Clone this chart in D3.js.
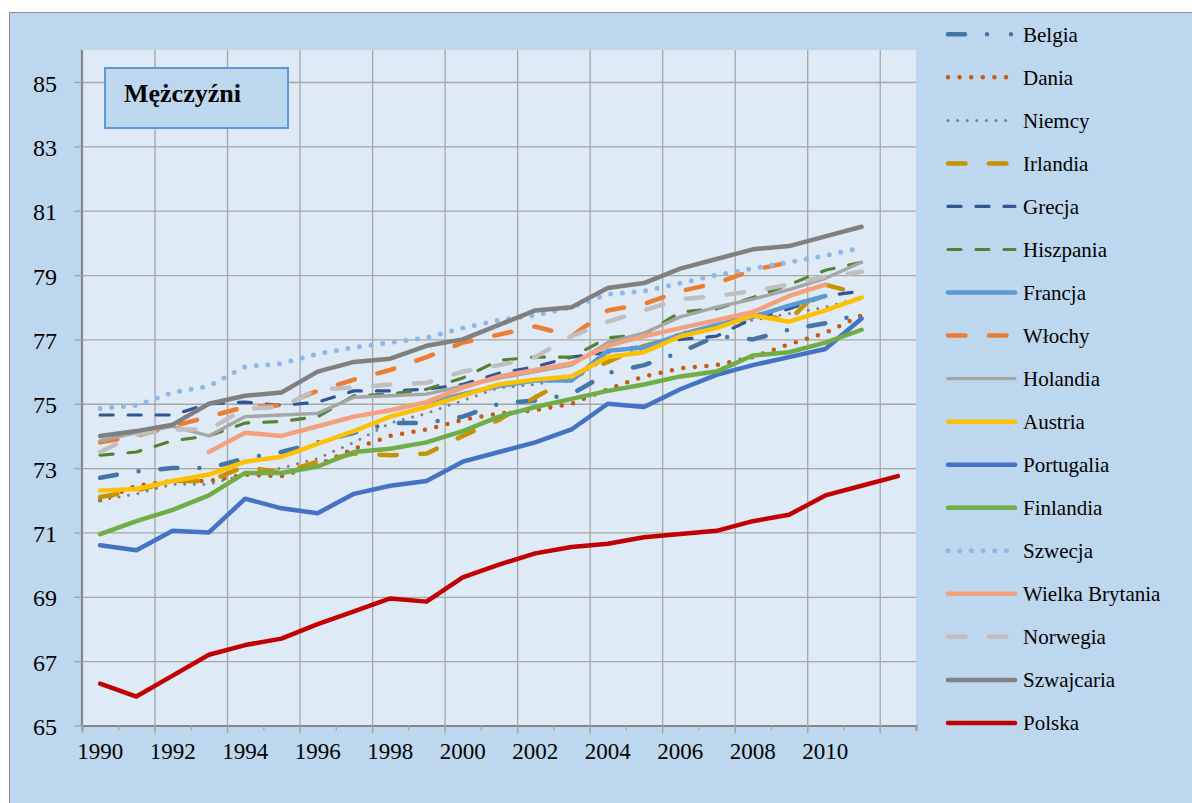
<!DOCTYPE html>
<html>
<head>
<meta charset="utf-8">
<script src="https://cdn.jsdelivr.net/npm/d3@7"></script>
<style>
  body { margin: 0; background: #fff; }
  svg { display: block; font-family: "Liberation Serif", "Times New Roman", serif; }
</style>
</head>
<body>
<div class="chart-container"></div>
<script>
// categories
const years = [1990, 1991, 1992, 1993, 1994, 1995, 1996, 1997, 1998, 1999, 2000, 2001,
  2002, 2003, 2004, 2005, 2006, 2007, 2008, 2009, 2010, 2011, 2012];
const yearLabels = [1990, 1992, 1994, 1996, 1998, 2000, 2002, 2004, 2006, 2008, 2010];
const yTicks = [65, 67, 69, 71, 73, 75, 77, 79, 81, 83, 85];

// life expectancy, men
const belgia = [72.7, 72.9, 73.0, 73.0, 73.3, 73.5, 73.8, 74.1, 74.4, 74.4, 74.6, 75.0, 75.1, 75.3, 75.95, 76.2, 76.6, 77.1, 77.0, 77.3, 77.5, 77.8, null];
const dania = [72.0, 72.45, 72.6, 72.6, 72.8, 72.75, 73.1, 73.6, 74.0, 74.2, 74.5, 74.7, 74.8, 75.0, 75.45, 75.85, 76.1, 76.2, 76.45, 76.85, 77.2, 77.75, null];
const niemcy = [72.0, 72.2, 72.5, 72.5, 72.8, 73.0, 73.3, 73.8, 74.4, 74.7, 75.1, 75.5, 75.6, 75.8, 76.4, 76.7, 77.2, 77.4, 77.6, 77.8, 78.0, 78.3, null];
const irlandia = [72.1, 72.3, 72.6, 72.6, 73.05, 72.85, 73.2, 73.45, 73.4, 73.45, 74.0, 74.5, 75.2, 75.8, 76.3, 76.8, 77.1, 77.4, 77.8, 77.6, 78.7, 78.4, null];
const grecja = [74.65, 74.65, 74.65, 75.0, 75.05, 74.95, 75.05, 75.4, 75.4, 75.45, 75.6, 75.95, 76.15, 76.45, 76.6, 76.8, 77.0, 77.1, 77.65, 77.95, 78.35, 78.5, null];
const hiszpania = [73.4, 73.5, 73.85, 74.0, 74.4, 74.45, 74.6, 75.25, 75.3, 75.45, 75.8, 76.35, 76.45, 76.45, 77.05, 77.15, 77.85, 77.95, 78.3, 78.7, 79.15, 79.4, null];
const francja = [null, null, null, null, null, null, null, null, null, 75.0, 75.3, 75.55, 75.72, 75.72, 76.65, 76.75, 77.15, 77.45, 77.7, 78.05, 78.35, null, null];
const wlochy = [73.8, 74.0, 74.3, 74.6, 74.9, 74.95, 75.4, 75.75, 76.05, 76.45, 76.9, 77.15, 77.4, 77.1, 77.9, 78.1, 78.5, 78.75, 79.15, 79.4, null, null, null];
const holandia = [73.85, 74.1, 74.3, 74.0, 74.6, 74.65, 74.7, 75.2, 75.25, 75.3, 75.55, 75.8, 76.0, 76.2, 76.9, 77.2, 77.7, 78.0, 78.25, 78.55, 78.9, 79.4, null];
const austria = [72.3, 72.35, 72.6, 72.8, 73.2, 73.35, 73.75, 74.15, 74.6, 74.9, 75.25, 75.6, 75.75, 75.85, 76.45, 76.6, 77.1, 77.35, 77.75, 77.55, 77.9, 78.3, null];
const portugalia = [70.6, 70.45, 71.05, 71.0, 72.05, 71.75, 71.6, 72.2, 72.45, 72.6, 73.2, 73.5, 73.8, 74.2, 75.0, 74.9, 75.45, 75.9, 76.2, 76.45, 76.7, 77.65, null];
const finlandia = [70.95, 71.35, 71.7, 72.15, 72.85, 72.85, 73.05, 73.5, 73.6, 73.8, 74.15, 74.6, 74.9, 75.15, 75.4, 75.6, 75.85, 76.0, 76.5, 76.6, 76.9, 77.3, null];
const szwecja = [74.85, 74.95, 75.35, 75.55, 76.15, 76.25, 76.55, 76.75, 76.9, 77.05, 77.35, 77.6, 77.75, 78.0, 78.4, 78.5, 78.75, 79.0, 79.2, 79.4, 79.6, 79.85, null];
const wielkaBrytania = [null, null, null, 73.5, 74.1, 74.0, 74.3, 74.6, 74.8, 75.05, 75.5, 75.85, 76.05, 76.25, 76.8, 77.1, 77.35, 77.6, 77.85, 78.35, 78.7, null, null];
const norwegia = [73.5, 74.05, 74.2, 74.2, 74.85, 74.9, 75.45, 75.5, 75.6, 75.65, 76.0, 76.2, 76.45, 77.1, 77.55, 77.9, 78.25, 78.35, 78.5, 78.7, 78.95, 79.1, null];
const szwajcaria = [74.0, 74.15, 74.35, 75.0, 75.25, 75.35, 76.0, 76.3, 76.4, 76.8, 77.0, 77.45, 77.9, 78.0, 78.6, 78.75, 79.2, 79.5, 79.8, 79.9, 80.2, 80.5, null];
const polska = [66.3, 65.9, 66.55, 67.2, 67.5, 67.7, 68.15, 68.55, 68.95, 68.85, 69.6, 70.0, 70.35, 70.55, 70.65, 70.85, 70.95, 71.05, 71.35, 71.55, 72.15, 72.45, 72.75];

// line styles (drawn in this order, like the legend)
const longDash = '17.5,23.5';
const shortDash = '13,15';
const series = [
  { name: 'Belgia', values: belgia, color: '#4375A8', width: 4.5, dash: '17,22,0,22', legendDash: '17,22,0,24,0,22' },
  { name: 'Dania', values: dania, color: '#C55A11', width: 4.5, dash: '0,11.6' },
  { name: 'Niemcy', values: niemcy, color: '#7F7F7F', width: 3, dash: '0,9.6' },
  { name: 'Irlandia', values: irlandia, color: '#C49400', width: 4.5, dash: longDash },
  { name: 'Grecja', values: grecja, color: '#2F5597', width: 3.2, dash: shortDash },
  { name: 'Hiszpania', values: hiszpania, color: '#548235', width: 3.2, dash: shortDash },
  { name: 'Francja', values: francja, color: '#5B9BD5', width: 4.5, dash: null },
  { name: 'Włochy', values: wlochy, color: '#ED7D31', width: 4.5, dash: longDash },
  { name: 'Holandia', values: holandia, color: '#A5A5A5', width: 3.4, dash: null },
  { name: 'Austria', values: austria, color: '#FFC000', width: 4.5, dash: null },
  { name: 'Portugalia', values: portugalia, color: '#4472C4', width: 4.5, dash: null },
  { name: 'Finlandia', values: finlandia, color: '#70AD47', width: 4.5, dash: null },
  { name: 'Szwecja', values: szwecja, color: '#8FB8E6', width: 5, dash: '0,11.7' },
  { name: 'Wielka Brytania', values: wielkaBrytania, color: '#F4A07C', width: 4.5, dash: null },
  { name: 'Norwegia', values: norwegia, color: '#BFBFBF', width: 4.5, dash: longDash },
  { name: 'Szwajcaria', values: szwajcaria, color: '#808080', width: 4.5, dash: null },
  { name: 'Polska', values: polska, color: '#C00000', width: 4.5, dash: null }
];

const width = 1192;
const height = 803;
const plot = { left: 82, right: 916, top: 50, bottom: 725.5 };
const gridColor = '#A6A6A6';
const axisColor = '#868686';
const serif = '"Liberation Serif", "Times New Roman", serif';

const svg = d3.select('.chart-container')
  .append('svg')
  .attr('width', width)
  .attr('height', height);

// chart area + plot area
svg.append('rect')
  .attr('x', 9.5).attr('y', 12.5)
  .attr('width', 1190).attr('height', 800)
  .attr('fill', '#BDD7EE')
  .attr('stroke', '#8C8C8C');

svg.append('rect')
  .attr('x', plot.left).attr('y', plot.top)
  .attr('width', plot.right - plot.left)
  .attr('height', plot.bottom - plot.top)
  .attr('fill', '#DEEAF6');

const x = d3.scaleBand().domain(years).range([plot.left, plot.right]).padding(0);
const xEdge = d3.scaleLinear().domain([0, years.length]).range([plot.left, plot.right]);
const y = d3.scaleLinear().domain([65, 85]).range([plot.bottom, 82]);

// horizontal grid
svg.append('g')
  .attr('class', 'grid-y')
  .attr('transform', `translate(${plot.left},0)`)
  .call(d3.axisLeft(y).tickValues(yTicks.slice(1)).tickSizeInner(-(plot.right - plot.left)).tickSizeOuter(0).tickFormat(''))
  .call(g => g.select('.domain').remove());

// vertical grid, every second category boundary
svg.append('g')
  .attr('class', 'grid-x')
  .attr('transform', `translate(0,${plot.bottom})`)
  .call(d3.axisBottom(xEdge).tickValues(d3.range(2, years.length, 2)).tickSizeInner(-(plot.bottom - plot.top)).tickSizeOuter(0).tickFormat(''))
  .call(g => g.select('.domain').remove());

svg.selectAll('.grid-y line, .grid-x line')
  .attr('stroke', gridColor)
  .attr('stroke-width', 1.3);

// y axis
const yAxis = svg.append('g')
  .attr('transform', `translate(${plot.left},0)`)
  .call(d3.axisLeft(y).tickValues(yTicks).tickSize(8).tickPadding(17))
  .attr('font-family', serif)
  .attr('font-size', 24);
yAxis.select('.domain').attr('d', `M0,${plot.top}V${plot.bottom}`);
yAxis.selectAll('line').attr('stroke', gridColor).attr('stroke-width', 1.3);
yAxis.selectAll('text').attr('dy', '0.38em').attr('fill', '#000');

// x axis: minor ticks each category, major every second
svg.append('g')
  .attr('class', 'x-minor')
  .attr('transform', `translate(0,${plot.bottom})`)
  .call(d3.axisBottom(xEdge).tickValues(d3.range(0, years.length + 1)).tickSize(5).tickFormat(''));

svg.append('g')
  .attr('class', 'x-major')
  .attr('transform', `translate(0,${plot.bottom})`)
  .call(d3.axisBottom(xEdge).tickValues(d3.range(0, years.length, 2)).tickSize(8).tickFormat(''))
  .call(g => g.select('.domain').remove());

svg.selectAll('.x-minor line, .x-major line').attr('stroke', gridColor).attr('stroke-width', 1.3);
svg.select('.x-minor .domain').attr('stroke', axisColor).attr('stroke-width', 2.2);
yAxis.select('.domain').attr('stroke', axisColor).attr('stroke-width', 2.2);

const xLabels = svg.append('g')
  .attr('transform', `translate(0,${plot.bottom})`)
  .call(d3.axisBottom(x).tickValues(yearLabels).tickSize(0).tickPadding(17))
  .attr('font-family', serif)
  .attr('font-size', 23);
xLabels.select('.domain').remove();
xLabels.selectAll('text').attr('fill', '#000');

// lines
const line = d3.line()
  .defined(d => d.v != null)
  .x(d => x(d.year) + x.bandwidth() / 2)
  .y(d => y(d.v));

svg.append('g')
  .selectAll('path')
  .data(series)
  .enter()
  .append('path')
  .attr('d', s => line(years.map((yr, i) => ({ year: yr, v: s.values[i] }))))
  .attr('fill', 'none')
  .attr('stroke', s => s.color)
  .attr('stroke-width', s => s.width)
  .attr('stroke-dasharray', s => s.dash)
  .attr('stroke-linecap', 'round')
  .attr('stroke-linejoin', 'round');

// legend
const legend = svg.append('g')
  .selectAll('g')
  .data(series)
  .enter()
  .append('g')
  .attr('transform', (s, i) => `translate(0,${34.3 + i * 43.04})`);

legend.append('line')
  .attr('x1', 948).attr('x2', 1015)
  .attr('stroke', s => s.color)
  .attr('stroke-width', s => s.width)
  .attr('stroke-dasharray', s => s.legendDash || s.dash)
  .attr('stroke-linecap', 'round');

legend.append('text')
  .attr('x', 1023)
  .attr('y', 7.5)
  .style('font-size', '21px')
  .text(s => s.name);

// title box
svg.append('rect')
  .attr('x', 105).attr('y', 68)
  .attr('width', 183).attr('height', 60)
  .attr('fill', '#BDD7EE')
  .attr('stroke', '#5B9BD5')
  .attr('stroke-width', 2);

svg.append('text')
  .attr('x', 124).attr('y', 102)
  .style('font-size', '26px')
  .style('font-weight', 'bold')
  .text('Mężczyźni');
</script>
</body>
</html>
